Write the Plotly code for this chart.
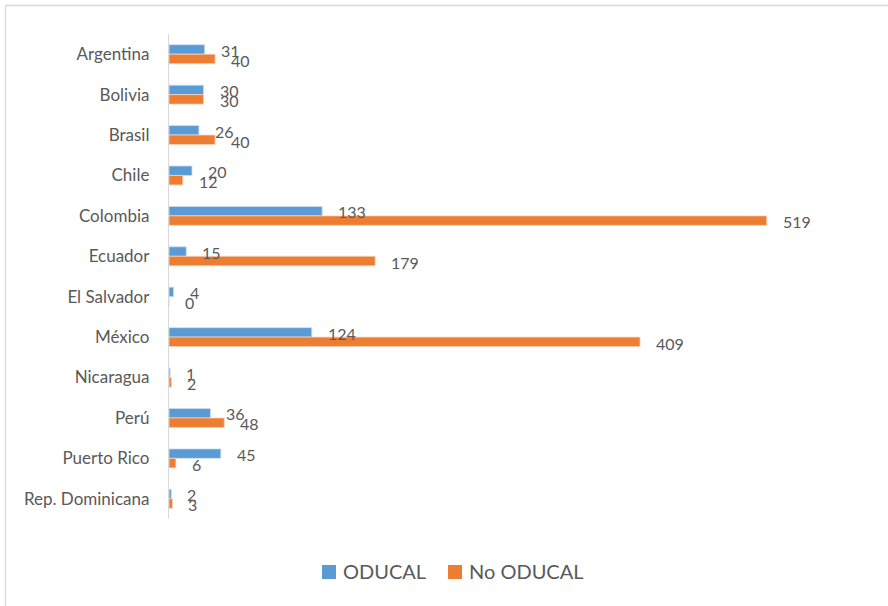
import plotly.graph_objects as go

categories = ["Argentina", "Bolivia", "Brasil", "Chile", "Colombia", "Ecuador",
              "El Salvador", "México", "Nicaragua", "Perú", "Puerto Rico", "Rep. Dominicana"]
oducal = [31, 30, 26, 20, 133, 15, 4, 124, 1, 36, 45, 2]
no_oducal = [40, 30, 40, 12, 519, 179, 0, 409, 2, 48, 6, 3]
series_names = ["ODUCAL", "No ODUCAL"]

BLUE = "#5B9BD5"
ORANGE = "#ED7D31"
TXT = "#595959"
FONT = "Lato"

W, H = 888, 606
ML, MR, MT, MB = 169, 28, 34, 87
PW, PH = W - ML - MR, H - MT - MB


def px_x(p):
    return (p - ML) / PW


def px_y(p):
    return (H - MB - p) / PH


fig = go.Figure()
fig.add_trace(go.Bar(y=categories, x=oducal, orientation="h", name=series_names[0],
                     marker=dict(color=BLUE, line=dict(color="#CFE0F1", width=0.8))))
fig.add_trace(go.Bar(y=categories, x=no_oducal, orientation="h", name=series_names[1],
                     marker=dict(color=ORANGE, line=dict(color="#F8D3BD", width=0.8))))

annotations = []
for c, v in zip(categories, oducal):
    annotations.append(dict(x=v, y=c, text=str(v), showarrow=False, xanchor="left",
                            xshift=14, yshift=4, font=dict(family=FONT, size=16, color=TXT)))
for c, v in zip(categories, no_oducal):
    annotations.append(dict(x=v, y=c, text=str(v), showarrow=False, xanchor="left",
                            xshift=14, yshift=-6, font=dict(family=FONT, size=16, color=TXT)))

# custom legend
leg = [(series_names[0], BLUE, 322, 341), (series_names[1], ORANGE, 448, 467)]
shapes = []
for name, col, sx, tx in leg:
    shapes.append(dict(type="rect", xref="paper", yref="paper",
                       x0=px_x(sx), x1=px_x(sx + 14), y0=px_y(579), y1=px_y(565),
                       fillcolor=col, line=dict(width=0)))
    annotations.append(dict(x=px_x(tx), y=px_y(571), xref="paper", yref="paper",
                            text=name, showarrow=False, xanchor="left", yanchor="middle",
                            font=dict(family=FONT, size=20, color=TXT)))

# chart frame (top and left visible)
shapes.append(dict(type="line", xref="paper", yref="paper",
                   x0=px_x(5), x1=px_x(888), y0=px_y(5.5), y1=px_y(5.5),
                   line=dict(color="#D9D9D9", width=1.3)))
shapes.append(dict(type="line", xref="paper", yref="paper",
                   x0=px_x(5.5), x1=px_x(5.5), y0=px_y(5), y1=px_y(606),
                   line=dict(color="#D9D9D9", width=1.3)))

fig.update_layout(
    width=W, height=H,
    margin=dict(l=ML, r=MR, t=MT, b=MB),
    paper_bgcolor="white", plot_bgcolor="white",
    barmode="group", bargap=0.53, bargroupgap=0,
    font=dict(family=FONT, size=15, color=TXT),
    xaxis=dict(range=[0, 600], visible=False, fixedrange=True),
    yaxis=dict(autorange="reversed", showline=True, linecolor="#D9D9D9", linewidth=1.3,
               showgrid=False, ticks="", ticklabelstandoff=15, fixedrange=True,
               tickfont=dict(family=FONT, size=17, color=TXT)),
    showlegend=False,
    hovermode=False,
    annotations=annotations,
    shapes=shapes,
)

fig.write_html("out.html", config={"displayModeBar": False},
               post_script="document.body.style.margin='0';")
